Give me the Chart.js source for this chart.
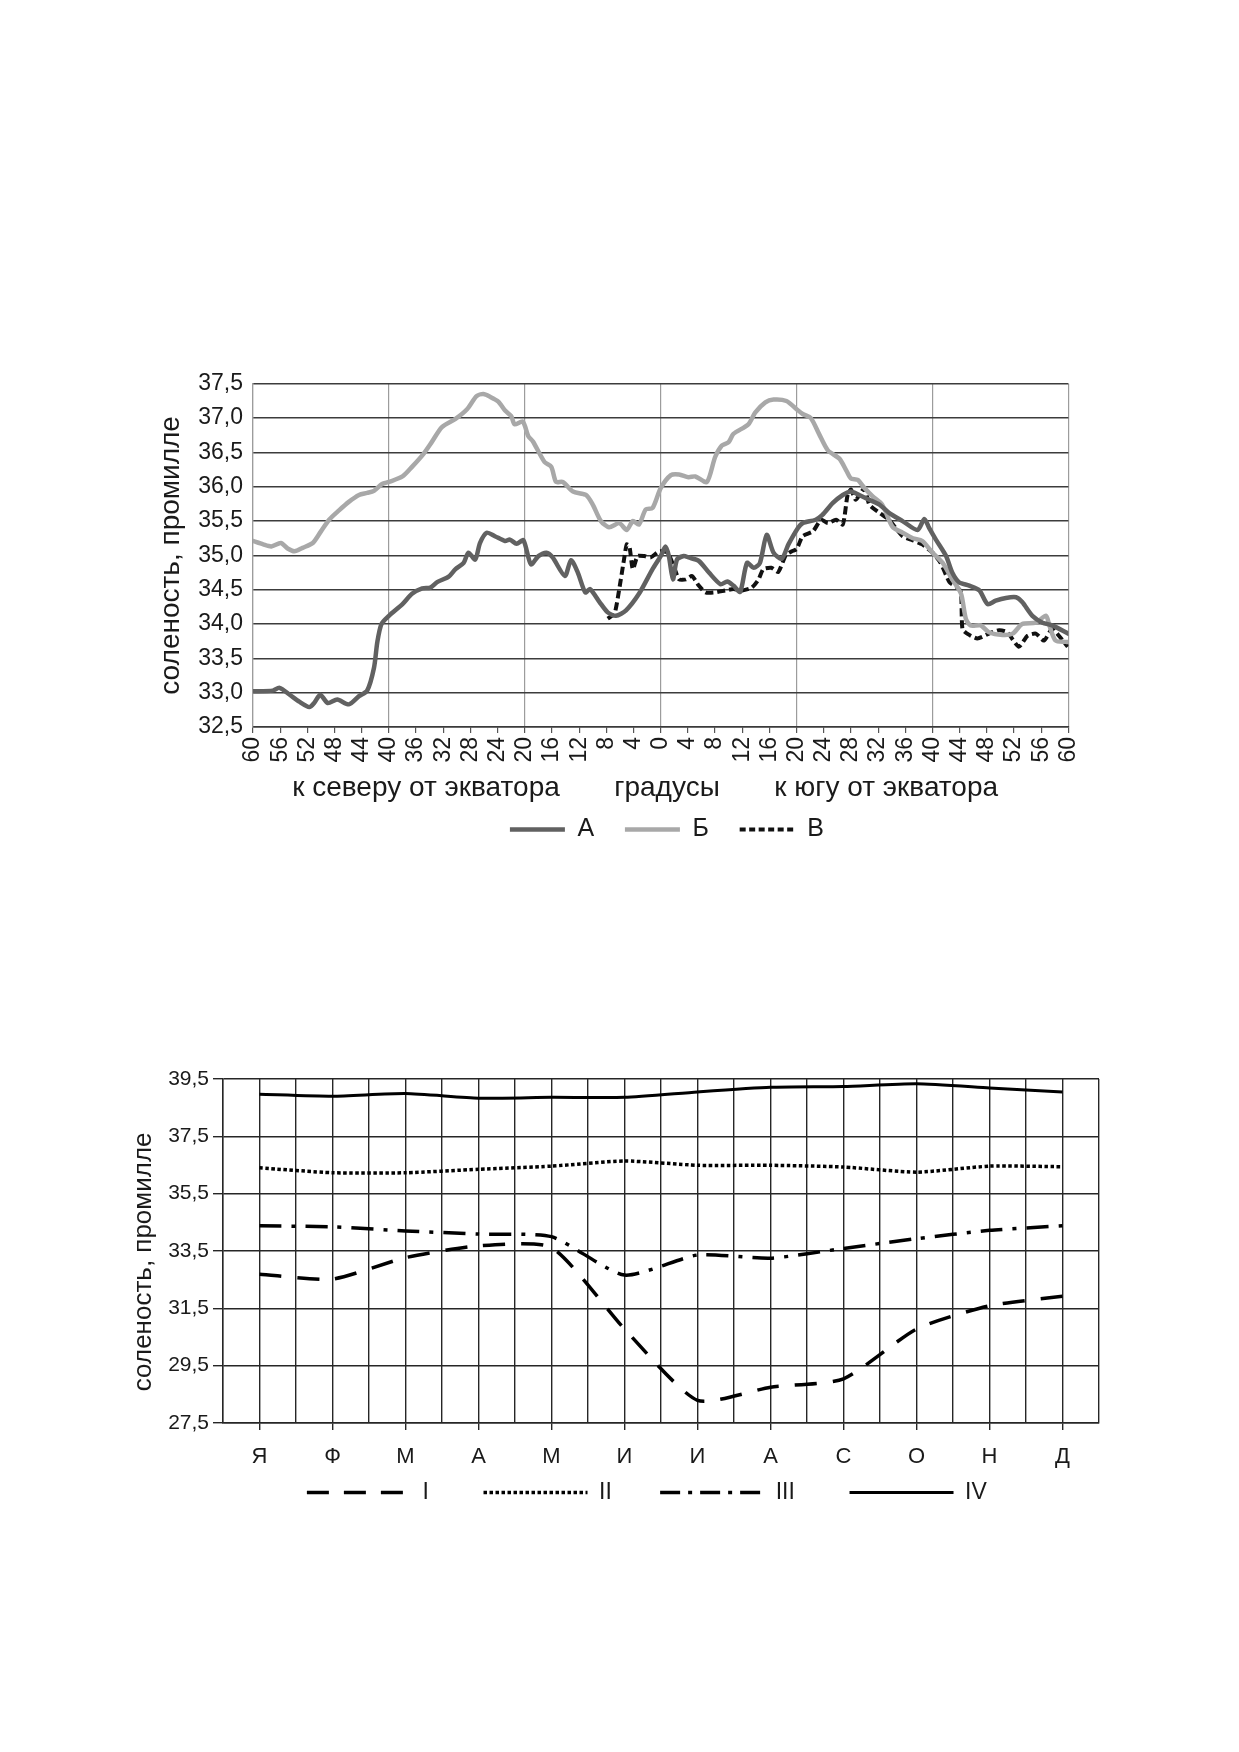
<!DOCTYPE html>
<html><head><meta charset="utf-8">
<script src="https://cdn.jsdelivr.net/npm/chart.js@4.4.0/dist/chart.umd.min.js"></script>
<style>
html,body{margin:0;padding:0;background:#fff;}
body{width:1239px;height:1752px;position:relative;overflow:hidden;}
canvas{position:absolute;}
#c1{left:150px;top:360px;}
#c2{left:120px;top:1060px;}
</style></head><body>
<canvas id="c1" width="950" height="520"></canvas>
<canvas id="c2" width="1000" height="470"></canvas>
<script>
// ---------- Chart 1 data: latitude (negative = north), salinity ----------
const latA = [-60,-57.1,-56.1,-54.6,-53.2,-51.7,-51.0,-50.1,-49.0,-47.6,-45.9,-44.4,-43.2,-42.2,-41.7,-41.1,-40.0,-38.0,-36.6,-35.1,-33.9,-32.9,-31.2,-30.2,-29.0,-28.3,-27.3,-26.6,-25.6,-24.4,-22.9,-22.2,-21.2,-20.2,-19.1,-18.0,-16.8,-15.9,-14.1,-13.2,-12.2,-11.1,-10.4,-9.0,-7.8,-6.6,-5.1,-3.2,-1.2,0.0,0.7,1.2,1.8,2.4,3.4,4.1,5.6,7.1,8.8,9.8,10.7,11.7,12.7,13.7,14.6,15.6,16.6,17.8,18.8,20.2,20.9,22.8,23.8,25.3,26.8,28.0,29.2,30.7,32.2,33.6,35.6,37.8,38.8,39.5,40.5,42.0,42.9,43.9,45.4,46.9,48.1,49.3,50.8,52.3,53.2,54.7,56.2,57.6,60.0];
const salA = [33.02,33.03,33.07,32.97,32.87,32.79,32.85,32.97,32.85,32.90,32.83,32.95,33.03,33.36,33.74,34.00,34.12,34.29,34.44,34.52,34.53,34.61,34.69,34.80,34.89,35.04,34.94,35.18,35.33,35.28,35.21,35.23,35.17,35.22,34.87,34.99,35.04,34.97,34.70,34.93,34.75,34.46,34.51,34.32,34.17,34.12,34.20,34.44,34.80,34.99,35.13,34.99,34.65,34.94,34.99,34.97,34.92,34.75,34.58,34.62,34.56,34.47,34.89,34.82,34.89,35.30,35.04,34.95,35.16,35.40,35.47,35.52,35.59,35.76,35.88,35.93,35.88,35.81,35.74,35.62,35.50,35.37,35.53,35.40,35.23,34.99,34.75,34.61,34.56,34.49,34.29,34.34,34.38,34.39,34.32,34.12,34.02,33.98,33.86];

const latB = [-60,-58.5,-57.3,-55.9,-54.9,-53.9,-52.7,-51.2,-50.0,-48.8,-47.3,-45.9,-44.4,-43.2,-42.2,-41.0,-40.0,-38.0,-36.6,-34.9,-33.7,-32.2,-30.2,-28.5,-27.1,-26.1,-25.1,-23.9,-22.9,-22.0,-21.5,-20.3,-19.5,-18.8,-17.1,-16.1,-15.4,-14.4,-12.9,-11.0,-10.0,-8.8,-7.6,-6.1,-5.0,-4.1,-3.2,-2.2,-1.2,0.0,1.5,2.7,4.1,5.1,6.8,8.0,9.0,10.0,10.7,12.9,13.9,15.4,16.6,18.5,20.0,20.9,22.1,23.3,24.6,26.3,27.3,28.0,29.0,30.0,31.2,32.6,34.1,35.6,37.1,38.5,40.0,41.5,42.9,44.2,44.9,45.6,47.1,48.3,50.3,51.8,53.2,55.2,56.7,57.2,58.1,59.6,60.0];
const salB = [35.21,35.16,35.13,35.18,35.10,35.06,35.11,35.18,35.35,35.52,35.66,35.78,35.88,35.91,35.94,36.04,36.07,36.15,36.29,36.48,36.65,36.87,36.99,37.13,37.32,37.35,37.31,37.24,37.11,37.03,36.91,36.95,36.74,36.66,36.36,36.29,36.07,36.07,35.93,35.88,35.74,35.50,35.41,35.47,35.37,35.50,35.45,35.67,35.69,35.98,36.17,36.18,36.14,36.15,36.07,36.43,36.60,36.65,36.77,36.91,37.08,37.23,37.27,37.25,37.13,37.06,37.00,36.77,36.53,36.41,36.24,36.12,36.10,35.98,35.86,35.74,35.42,35.33,35.25,35.21,35.04,34.89,34.65,34.44,34.08,33.98,33.98,33.88,33.84,33.86,34.00,34.02,34.12,33.98,33.76,33.74,33.74];

const latV = [-7.8,-6.8,-6.1,-5.4,-5.0,-4.6,-4.1,-3.4,-2.4,-1.5,-0.2,1.0,2.0,2.7,3.7,4.6,5.6,6.6,8.0,9.5,10.7,12.0,13.4,14.4,15.1,16.3,17.3,18.4,19.3,20.0,20.9,22.4,23.6,24.6,25.8,26.8,27.5,28.0,28.7,30.0,30.7,32.2,33.6,35.6,37.1,38.5,40.0,41.2,42.5,43.7,44.2,44.4,45.1,46.6,48.3,49.8,51.0,52.7,54.0,55.2,56.4,57.6,58.6,59.9];
const salV = [34.08,34.15,34.51,34.94,35.16,35.13,34.80,34.99,34.99,34.97,35.06,35.04,34.82,34.65,34.65,34.70,34.56,34.46,34.46,34.49,34.51,34.49,34.53,34.65,34.80,34.82,34.76,35.00,35.06,35.09,35.28,35.35,35.52,35.47,35.52,35.45,35.88,35.96,35.81,35.98,35.74,35.62,35.52,35.28,35.22,35.16,35.04,34.89,34.61,34.53,34.46,33.93,33.86,33.79,33.86,33.91,33.88,33.67,33.83,33.86,33.76,33.93,33.83,33.67];

const seriesNames1 = ['А','Б','В'];
const yTicks1 = {min: 32.5, max: 37.5, step: 0.5};
const xTicks1 = {min: -60, max: 60, step: 4};

// ---------- Chart 2 data ----------
const months = ['Я','Ф','М','А','М','И','И','А','С','О','Н','Д'];
const serI   = [32.69,32.52,33.27,33.68,33.62,30.78,28.29,28.75,29.04,30.78,31.59,31.92];
const serII  = [36.40,36.23,36.23,36.35,36.46,36.64,36.49,36.49,36.43,36.25,36.46,36.44];
const serIII = [34.38,34.34,34.20,34.09,34.00,32.66,33.36,33.25,33.59,33.93,34.22,34.38];
const serIV  = [38.97,38.90,38.99,38.83,38.86,38.86,39.05,39.21,39.24,39.33,39.19,39.05];
const seriesNames2 = ['I','II','III','IV'];
const yTicks2 = {min: 27.5, max: 39.5, step: 2};

// ---------- helpers ----------
Chart.defaults.font.family = '"Liberation Sans", Arial, sans-serif';
Chart.defaults.color = '#1a1a1a';
const toXY = (xs, ys) => xs.map((x, i) => ({x: x, y: ys[i]}));
const fmt = v => Number(v).toFixed(1).replace('.', ',');
const NB = n => '\u00A0'.repeat(n);

function legendWithGaps(gaps, dashes) {
  return function(chart) {
    const items = Chart.defaults.plugins.legend.labels.generateLabels(chart);
    items.forEach((it, i) => {
      const ds = chart.data.datasets[it.datasetIndex];
      it.text = it.text + NB(gaps[i] || 0);
      it.strokeStyle = ds.borderColor;
      it.fillStyle = ds.borderColor;
      it.lineWidth = ds.borderWidth;
      it.lineDash = dashes[i] || [];
      it.lineDashOffset = 0;
      it.lineCap = 'butt';
    });
    return items;
  };
}

// ---------- Chart 1 ----------
new Chart(document.getElementById('c1'), {
  type: 'line',
  data: {
    datasets: [
      {label: seriesNames1[0], data: toXY(latA, salA), borderColor: '#616161', borderWidth: 4.5, tension: 0.25, pointRadius: 0, borderCapStyle: 'round', borderJoinStyle: 'round'},
      {label: seriesNames1[1], data: toXY(latB, salB), borderColor: '#a8a8a8', borderWidth: 4.5, tension: 0.25, pointRadius: 0, borderCapStyle: 'round', borderJoinStyle: 'round'},
      {label: seriesNames1[2], data: toXY(latV, salV), borderColor: '#111111', borderWidth: 4, borderDash: [8, 4], tension: 0.2, pointRadius: 0, borderCapStyle: 'butt'}
    ]
  },
  options: {
    responsive: false, animation: false,
    layout: {padding: {top: 21, right: 30, bottom: 28, left: 0}},
    plugins: {
      tooltip: {enabled: false},
      legend: {
        position: 'bottom', align: 'end',
        labels: {usePointStyle: true, pointStyle: 'line', pointStyleWidth: 55, padding: 10,
                 font: {size: 25}, color: '#1a1a1a',
                 generateLabels: legendWithGaps([3, 3, 34], [[], [], [6, 3.5]])}
      }
    },
    scales: {
      x: {
        type: 'linear', min: xTicks1.min, max: xTicks1.max,
        ticks: {stepSize: xTicks1.step, autoSkip: false, minRotation: 90, maxRotation: 90,
                callback: v => String(Math.abs(v)), font: {size: 23}, padding: 4},
        grid: {color: c => (c.tick && Math.abs(c.tick.value % 20) < 1e-6) ? '#9c9c9c' : 'rgba(0,0,0,0)',
               lineWidth: 1.2, tickColor: '#555', tickLength: 6},
        border: {color: '#3a3a3a', width: 1.5},
        title: {display: true, text: 'к северу от экватора       градусы       к югу от экватора' + NB(4),
                font: {size: 28}, color: '#1a1a1a', padding: {top: 0, bottom: 2}},
        afterFit: s => { s.height = 80; }
      },
      y: {
        min: yTicks1.min, max: yTicks1.max,
        ticks: {stepSize: yTicks1.step, callback: fmt, font: {size: 23}, padding: 10},
        grid: {color: '#3c3c3c', lineWidth: 1.5, drawTicks: false},
        border: {color: '#9c9c9c', width: 1.2},
        title: {display: true, text: 'соленость, промилле', font: {size: 28}, color: '#1a1a1a', padding: {top: 4.5, bottom: 0}},
        afterFit: s => { s.width = 103; }
      }
    }
  }
});

// ---------- Chart 2 ----------
const monthXY = ys => months.map((m, i) => ({x: i, y: ys[i]}));
new Chart(document.getElementById('c2'), {
  type: 'line',
  data: {
    datasets: [
      {label: seriesNames2[0], data: monthXY(serI), borderColor: '#000', borderWidth: 3.5, borderDash: [22, 16], tension: 0.2, pointRadius: 0, borderCapStyle: 'butt'},
      {label: seriesNames2[1], data: monthXY(serII), borderColor: '#000', borderWidth: 3.5, borderDash: [3.5, 2.5], tension: 0.2, pointRadius: 0, borderCapStyle: 'butt'},
      {label: seriesNames2[2], data: monthXY(serIII), borderColor: '#000', borderWidth: 3.5, borderDash: [22, 10, 4, 10], tension: 0.2, pointRadius: 0, borderCapStyle: 'butt'},
      {label: seriesNames2[3], data: monthXY(serIV), borderColor: '#000', borderWidth: 3, tension: 0.2, pointRadius: 0}
    ]
  },
  options: {
    responsive: false, animation: false,
    layout: {padding: {top: 19, right: 21, bottom: 16, left: 0}},
    plugins: {
      tooltip: {enabled: false},
      legend: {
        position: 'bottom', align: 'end',
        labels: {usePointStyle: true, pointStyle: 'line', pointStyleWidth: 104, padding: 10,
                 font: {size: 23}, color: '#1a1a1a',
                 generateLabels: legendWithGaps([7, 6, 7, 16], [[22, 15], [3.5, 2.5], [20, 8, 4, 8], []])}
      }
    },
    scales: {
      x: {
        type: 'linear', min: -0.5, max: 11.5,
        ticks: {stepSize: 0.5, autoSkip: false, minRotation: 0, maxRotation: 0,
                callback: v => Number.isInteger(v) ? months[v] : '', font: {size: 22}, padding: 14},
        grid: {color: '#262626', lineWidth: 1.4, tickLength: 7,
               tickColor: c => (c.tick && Number.isInteger(c.tick.value)) ? '#262626' : 'rgba(0,0,0,0)'},
        border: {color: '#262626', width: 1.4},
        afterFit: s => { s.height = 48; }
      },
      y: {
        min: yTicks2.min, max: yTicks2.max,
        ticks: {stepSize: yTicks2.step, callback: fmt, font: {size: 21}, padding: 4},
        grid: {color: '#262626', lineWidth: 1.4, tickLength: 10},
        border: {color: '#262626', width: 1.4},
        title: {display: true, text: 'соленость, промилле' + NB(3), font: {size: 26}, color: '#1a1a1a', padding: {top: 8, bottom: 0}},
        afterFit: s => { s.width = 103; }
      }
    }
  }
});
</script>
</body></html>
